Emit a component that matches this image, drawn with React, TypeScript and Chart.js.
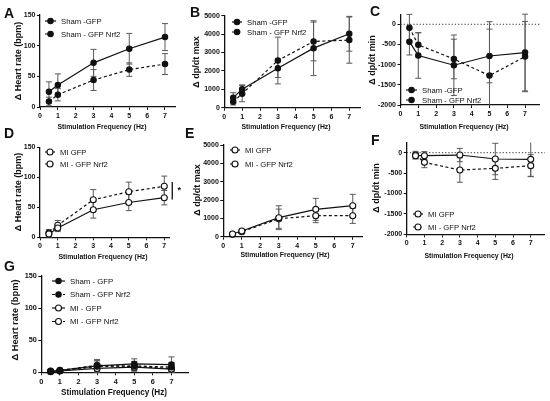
import React, { useEffect, useRef } from "react";
import { Chart, registerables } from "chart.js";

Chart.register(...registerables);

const FONT = "'Liberation Sans', Arial, sans-serif";

// shared x values and ticks
const freq = [0.5, 1, 3, 5, 7];
const freqTicks = [0, 1, 2, 3, 4, 5, 6, 7];
const hrTicks = [0, 50, 100, 150];
const maxTicks = [0, 1000, 2000, 3000, 4000, 5000];
const minTicks = [-2000, -1500, -1000, -500, 0];

// A - sham heart rate
const shamGfpHR = [25, 36, 72, 95, 114];
const shamGfpHRErr = [16, 18, 22, 25, 22];
const shamNrf2HR = [9, 20, 44, 61, 70];
const shamNrf2HRErr = [7, 10, 17, 11, 17];

// B - sham dp/dt max
const shamGfpMax = [545, 1000, 2145, 3236, 4018];
const shamGfpMaxErr = [270, 240, 500, 1490, 946];
const shamNrf2Max = [327, 764, 2564, 3600, 3673];
const shamNrf2MaxErr = [180, 440, 1270, 1054, 1255];

// C - sham dp/dt min
const shamGfpMin = [-430, -773, -1015, -785, -700];
const shamGfpMinErr = [330, 565, 750, 665, 950];
const shamNrf2Min = [-84, -510, -860, -1272, -800];
const shamNrf2MinErr = [330, 300, 490, 1337, 870];

// D - MI heart rate
const miGfpHR = [5.5, 15.5, 46, 58, 66];
const miGfpHRErr = [5, 6, 14, 13.5, 12];
const miNrf2HR = [7, 20, 62.5, 76, 85];
const miNrf2HRErr = [6, 8, 17, 16, 17];
const miSig = { x: 7.45, from: 63, to: 92, starX: 7.85, starY: 82 };

// E - MI dp/dt max
const miGfpMax = [145, 310, 1036, 1490, 1690];
const miGfpMaxErr = [80, 100, 650, 600, 620];
const miNrf2Max = [127, 273, 980, 1145, 1145];
const miNrf2MaxErr = [60, 80, 525, 380, 420];

// F - MI dp/dt min
const miGfpMin = [-73, -73, -57, -155, -163];
const miGfpMinErr = [80, 100, 163, 385, 415];
const miNrf2Min = [-57, -237, -424, -384, -318];
const miNrf2MinErr = [90, 130, 300, 270, 270];

// G - all groups heart rate
const gShamGfp = [2, 3, 10, 13, 12];
const gShamGfpErr = [2, 2, 8, 8, 12];
const gShamNrf2 = [1, 2, 9, 10, 8];
const gShamNrf2Err = [2, 2, 9, 7, 7];
const gMiGfp = [1, 2, 6, 8, 5];
const gMiGfpErr = [2, 2, 5, 6, 5];
const gMiNrf2 = [2, 3, 11, 9, 6];
const gMiNrf2Err = [2, 2, 9, 7, 8];

const series = (
  label: string,
  values: number[],
  errors: number[],
  dashed: boolean,
  open: boolean
) => ({
  label,
  data: freq.map((x, i) => ({ x, y: values[i] })),
  errors,
  borderColor: "#111",
  borderWidth: 1.2,
  borderDash: dashed ? [3, 2.5] : [],
  pointRadius: open ? 3 : 2.7,
  pointBackgroundColor: open ? "#fff" : "#111",
  pointBorderColor: "#111",
  pointBorderWidth: 1.1,
  fill: false,
  tension: 0,
  clip: false as any,
});

const errorBars = {
  id: "errorBars",
  beforeDatasetsDraw(chart: any) {
    const { ctx, chartArea } = chart;
    const xs = chart.scales.x;
    const ys = chart.scales.y;
    ctx.save();
    ctx.strokeStyle = "#5a5a5a";
    ctx.lineWidth = 1;
    chart.data.datasets.forEach((ds: any) => {
      const errs: number[] = ds.errors || [];
      ds.data.forEach((p: any, i: number) => {
        const e = errs[i];
        if (!e) return;
        const px = xs.getPixelForValue(p.x);
        const top = ys.getPixelForValue(p.y + e);
        const bot = ys.getPixelForValue(p.y - e);
        const t = Math.max(top, chartArea.top);
        const b = Math.min(bot, chartArea.bottom);
        ctx.beginPath();
        ctx.moveTo(px, t);
        ctx.lineTo(px, b);
        if (top >= chartArea.top) {
          ctx.moveTo(px - 3, top);
          ctx.lineTo(px + 3, top);
        }
        if (bot <= chartArea.bottom) {
          ctx.moveTo(px - 3, bot);
          ctx.lineTo(px + 3, bot);
        }
        ctx.stroke();
      });
    });
    ctx.restore();
  },
};

const extras = {
  id: "extras",
  beforeDatasetsDraw(chart: any, _a: any, o: any) {
    if (!o.zeroLine) return;
    const { ctx, chartArea } = chart;
    const y = chart.scales.y.getPixelForValue(0);
    ctx.save();
    ctx.strokeStyle = "#333";
    ctx.lineWidth = 1;
    ctx.setLineDash([1.2, 2]);
    ctx.beginPath();
    ctx.moveTo(chartArea.left, y);
    ctx.lineTo(chartArea.right, y);
    ctx.stroke();
    ctx.restore();
  },
  afterDraw(chart: any, _a: any, o: any) {
    const ctx = chart.ctx;
    const xs = chart.scales.x;
    const ys = chart.scales.y;
    ctx.save();
    ctx.fillStyle = "#111";
    ctx.textAlign = "left";
    ctx.textBaseline = "alphabetic";
    ctx.font = `bold 14px ${FONT}`;
    ctx.fillText(o.letter, o.letterX, o.letterY);

    ctx.textAlign = "center";
    ctx.textBaseline = "middle";
    ctx.font = `bold ${o.xTitleSize}px ${FONT}`;
    ctx.fillText("Stimulation Frequency (Hz)", o.xTitleX, o.xTitleY);

    ctx.save();
    ctx.translate(o.yTitleX, o.yTitleY);
    ctx.rotate(-Math.PI / 2);
    ctx.font = `bold ${o.yTitleSize}px ${FONT}`;
    ctx.fillText(o.yTitle, 0, 0);
    ctx.restore();

    // legend
    const lg = o.legend;
    chart.data.datasets.forEach((ds: any, i: number) => {
      const y = lg.y + i * lg.gap;
      ctx.save();
      ctx.strokeStyle = "#111";
      ctx.lineWidth = 1.2;
      ctx.setLineDash(ds.borderDash);
      ctx.beginPath();
      ctx.moveTo(lg.x, y);
      ctx.lineTo(lg.x + lg.len, y);
      ctx.stroke();
      ctx.setLineDash([]);
      ctx.beginPath();
      ctx.arc(lg.x + lg.len / 2, y, ds.pointRadius, 0, Math.PI * 2);
      ctx.fillStyle = ds.pointBackgroundColor;
      ctx.fill();
      ctx.lineWidth = 1.1;
      ctx.stroke();
      ctx.restore();
      ctx.textAlign = "left";
      ctx.textBaseline = "middle";
      ctx.font = `${lg.size}px ${FONT}`;
      ctx.fillText(ds.label, lg.x + lg.len + 5, y + 0.5);
    });

    if (o.sig) {
      const sx = xs.getPixelForValue(o.sig.x);
      ctx.strokeStyle = "#111";
      ctx.lineWidth = 1.3;
      ctx.beginPath();
      ctx.moveTo(sx, ys.getPixelForValue(o.sig.to));
      ctx.lineTo(sx, ys.getPixelForValue(o.sig.from));
      ctx.stroke();
      ctx.font = `bold 9px ${FONT}`;
      ctx.textAlign = "center";
      ctx.fillText("*", xs.getPixelForValue(o.sig.starX), ys.getPixelForValue(o.sig.starY) + 2);
    }
    ctx.restore();
  },
};

type PanelDef = {
  letter: string;
  letterX: number;
  letterY: number;
  area: { left: number; right: number; top: number; bottom: number };
  xMax: number;
  yMin: number;
  yMax: number;
  yTicks: number[];
  yTitle: string;
  yTitleX: number;
  yTitleY: number;
  xTitleX: number;
  xTitleY: number;
  tickSize: number;
  xTitleSize: number;
  yTitleSize: number;
  legend: { x: number; y: number; gap: number; len: number; size: number };
  datasets: any[];
  zeroLine?: boolean;
  sig?: any;
};

const panels: PanelDef[] = [
  {
    letter: "A", letterX: 4, letterY: 18,
    area: { left: 40, right: 175.7, top: 15, bottom: 107 },
    xMax: 7.6, yMin: 0, yMax: 150, yTicks: hrTicks,
    yTitle: "Δ Heart rate (bpm)", yTitleX: 19, yTitleY: 61,
    xTitleX: 102, xTitleY: 127, tickSize: 7, xTitleSize: 6.9, yTitleSize: 9,
    legend: { x: 45, y: 21, gap: 13, len: 11, size: 7.7 },
    datasets: [
      series("Sham -GFP", shamGfpHR, shamGfpHRErr, false, false),
      series("Sham - GFP Nrf2", shamNrf2HR, shamNrf2HRErr, true, false),
    ],
  },
  {
    letter: "B", letterX: 190, letterY: 17,
    area: { left: 224.3, right: 360, top: 15.7, bottom: 107.7 },
    xMax: 7.6, yMin: 0, yMax: 5000, yTicks: maxTicks,
    yTitle: "Δ dp/dt max", yTitleX: 197, yTitleY: 62,
    xTitleX: 286, xTitleY: 127, tickSize: 7, xTitleSize: 6.9, yTitleSize: 9,
    legend: { x: 232, y: 22, gap: 10, len: 10, size: 7.7 },
    datasets: [
      series("Sham -GFP", shamGfpMax, shamGfpMaxErr, false, false),
      series("Sham - GFP Nrf2", shamNrf2Max, shamNrf2MaxErr, true, false),
    ],
  },
  {
    letter: "C", letterX: 370, letterY: 16,
    area: { left: 400.5, right: 539.3, top: 14.2, bottom: 105 },
    xMax: 7.8, yMin: -2000, yMax: 250, yTicks: minTicks,
    yTitle: "Δ dp/dt min", yTitleX: 373, yTitleY: 60,
    xTitleX: 464, xTitleY: 127, tickSize: 7, xTitleSize: 6.9, yTitleSize: 9,
    legend: { x: 406, y: 90, gap: 10, len: 11, size: 7.7 },
    zeroLine: true,
    datasets: [
      series("Sham -GFP", shamGfpMin, shamGfpMinErr, false, false),
      series("Sham - GFP Nrf2", shamNrf2Min, shamNrf2MinErr, true, false),
    ],
  },
  {
    letter: "D", letterX: 4, letterY: 138,
    area: { left: 40, right: 169.6, top: 147.3, bottom: 237.3 },
    xMax: 7.3, yMin: 0, yMax: 150, yTicks: hrTicks,
    yTitle: "Δ Heart rate (bpm)", yTitleX: 19, yTitleY: 192,
    xTitleX: 103, xTitleY: 257, tickSize: 7, xTitleSize: 6.9, yTitleSize: 9,
    legend: { x: 45, y: 152, gap: 12, len: 10, size: 7.7 },
    sig: miSig,
    datasets: [
      series("MI GFP", miGfpHR, miGfpHRErr, false, true),
      series("MI - GFP Nrf2", miNrf2HR, miNrf2HRErr, true, true),
    ],
  },
  {
    letter: "E", letterX: 185, letterY: 138,
    area: { left: 223.3, right: 362, top: 145, bottom: 236.7 },
    xMax: 7.5, yMin: 0, yMax: 5000, yTicks: maxTicks,
    yTitle: "Δ dp/dt max", yTitleX: 198, yTitleY: 190,
    xTitleX: 285, xTitleY: 255, tickSize: 7, xTitleSize: 6.9, yTitleSize: 9,
    legend: { x: 230, y: 150, gap: 14, len: 10, size: 7.7 },
    datasets: [
      series("MI GFP", miGfpMax, miGfpMaxErr, false, true),
      series("MI - GFP Nrf2", miNrf2Max, miNrf2MaxErr, true, true),
    ],
  },
  {
    letter: "F", letterX: 371, letterY: 145,
    area: { left: 406.7, right: 545.2, top: 142.5, bottom: 234.3 },
    xMax: 7.8, yMin: -2000, yMax: 250, yTicks: minTicks,
    yTitle: "Δ dp/dt min", yTitleX: 377, yTitleY: 188,
    xTitleX: 469, xTitleY: 256, tickSize: 7, xTitleSize: 6.9, yTitleSize: 9,
    legend: { x: 413, y: 214, gap: 13, len: 10, size: 7.7 },
    zeroLine: true,
    datasets: [
      series("MI GFP", miGfpMin, miGfpMinErr, false, true),
      series("MI - GFP Nrf2", miNrf2Min, miNrf2MinErr, true, true),
    ],
  },
  {
    letter: "G", letterX: 4, letterY: 271,
    area: { left: 41.3, right: 188.2, top: 276, bottom: 372.3 },
    xMax: 7.9, yMin: 0, yMax: 150, yTicks: hrTicks,
    yTitle: "Δ Heart rate (bpm)", yTitleX: 15, yTitleY: 320,
    xTitleX: 114, xTitleY: 393, tickSize: 7.3, xTitleSize: 8.2, yTitleSize: 9.3,
    legend: { x: 52, y: 281, gap: 13.5, len: 13, size: 7.8 },
    datasets: [
      series("Sham - GFP", gShamGfp, gShamGfpErr, false, false),
      series("Sham - GFP Nrf2", gShamNrf2, gShamNrf2Err, true, false),
      series("MI - GFP", gMiGfp, gMiGfpErr, false, true),
      series("MI - GFP Nrf2", gMiNrf2, gMiNrf2Err, true, true),
    ],
  },
];

const W = 550;
const H = 401;
const Y_AXIS_W = 30;
const X_AXIS_H = 14;

const Panel = ({ def }: { def: PanelDef }) => {
  const canvasRef = useRef<HTMLCanvasElement>(null);
  const chartRef = useRef<Chart | null>(null);

  useEffect(() => {
    const canvas = canvasRef.current;
    if (!canvas) return;
    if (chartRef.current) chartRef.current.destroy();

    const axisCommon = {
      grid: {
        display: true,
        drawOnChartArea: false,
        drawTicks: true,
        tickLength: 3,
        color: "#111",
        lineWidth: 1,
      },
      border: { display: true, color: "#111", width: 1.3 },
    };
    const tickFont = { family: FONT, size: def.tickSize, weight: "bold" as const };

    chartRef.current = new Chart(canvas, {
      type: "line",
      data: { datasets: def.datasets },
      plugins: [errorBars, extras],
      options: {
        responsive: false,
        animation: false,
        events: [],
        layout: {
          padding: {
            left: def.area.left - Y_AXIS_W,
            right: W - def.area.right,
            top: def.area.top,
            bottom: H - def.area.bottom - X_AXIS_H,
          },
        },
        scales: {
          x: {
            type: "linear",
            min: 0,
            max: def.xMax,
            ...axisCommon,
            ticks: {
              font: tickFont,
              color: "#111",
              padding: 2,
              maxRotation: 0,
              autoSkip: false,
              callback: (v: any) => String(v),
            },
            afterBuildTicks: (axis: any) => {
              axis.ticks = freqTicks.map((v) => ({ value: v }));
            },
            afterFit: (axis: any) => {
              axis.height = X_AXIS_H;
              axis.paddingLeft = 0;
              axis.paddingRight = 0;
              axis.paddingTop = 0;
              axis.paddingBottom = 0;
            },
          },
          y: {
            type: "linear",
            min: def.yMin,
            max: def.yMax,
            ...axisCommon,
            ticks: {
              font: tickFont,
              color: "#111",
              padding: 1.5,
              autoSkip: false,
              callback: (v: any) => String(v),
            },
            afterBuildTicks: (axis: any) => {
              axis.ticks = def.yTicks.map((v) => ({ value: v }));
            },
            afterFit: (axis: any) => {
              axis.width = Y_AXIS_W;
              axis.paddingLeft = 0;
              axis.paddingRight = 0;
              axis.paddingTop = 0;
              axis.paddingBottom = 0;
            },
          },
        },
        plugins: {
          legend: { display: false },
          tooltip: { enabled: false },
          extras: {
            letter: def.letter,
            letterX: def.letterX,
            letterY: def.letterY,
            yTitle: def.yTitle,
            yTitleX: def.yTitleX,
            yTitleY: def.yTitleY,
            xTitleX: def.xTitleX,
            xTitleY: def.xTitleY,
            xTitleSize: def.xTitleSize,
            yTitleSize: def.yTitleSize,
            legend: def.legend,
            zeroLine: def.zeroLine,
            sig: def.sig,
          },
        } as any,
      },
    });

    return () => {
      if (chartRef.current) {
        chartRef.current.destroy();
        chartRef.current = null;
      }
    };
  }, [def]);

  return (
    <canvas
      ref={canvasRef}
      width={W}
      height={H}
      style={{ position: "absolute", left: 0, top: 0, width: W, height: H }}
    />
  );
};

export default function App() {
  return (
    <div
      style={{
        position: "fixed",
        left: 0,
        top: 0,
        width: W,
        height: H,
        background: "#fff",
      }}
    >
      {panels.map((p) => (
        <Panel key={p.letter} def={p} />
      ))}
    </div>
  );
}
